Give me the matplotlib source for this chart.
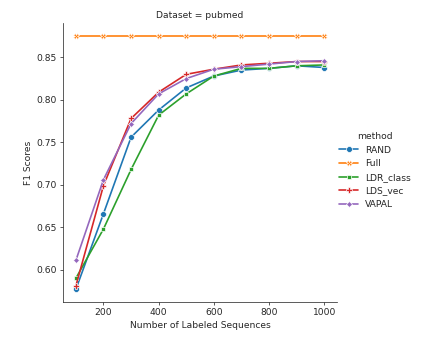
import numpy as np
import pandas as pd
import matplotlib
matplotlib.use("Agg")
import matplotlib.pyplot as plt
import seaborn as sns

# number of labeled sequences
sizes = [100, 200, 300, 400, 500, 600, 700, 800, 900, 1000]

# F1 scores, one list per method
rand = [0.577, 0.666, 0.756, 0.788, 0.814, 0.828, 0.835, 0.837, 0.840, 0.838]
full = [0.875] * 10
ldr_class = [0.590, 0.648, 0.718, 0.782, 0.807, 0.828, 0.837, 0.837, 0.840, 0.841]
lds_vec = [0.581, 0.699, 0.778, 0.809, 0.830, 0.836, 0.841, 0.843, 0.845, 0.845]
vapal = [0.611, 0.706, 0.772, 0.807, 0.825, 0.836, 0.839, 0.842, 0.845, 0.846]

methods = ["RAND", "Full", "LDR_class", "LDS_vec", "VAPAL"]
scores = [rand, full, ldr_class, lds_vec, vapal]

rows = []
for m, vals in zip(methods, scores):
    for n, v in zip(sizes, vals):
        rows.append({"size": n, "f1": v, "method": m})
df = pd.DataFrame(rows)

sns.set_style("ticks")
plt.rcParams["font.size"] = 10
plt.rcParams["axes.labelsize"] = 10
plt.rcParams["xtick.labelsize"] = 10
plt.rcParams["ytick.labelsize"] = 10
plt.rcParams["legend.fontsize"] = 10

dpi = 66
fig = plt.figure(figsize=(423 / dpi, 341 / dpi), dpi=dpi)
ax = fig.add_axes([0.150, 0.1144, 0.646, 0.817])

sns.lineplot(data=df, x="size", y="f1", hue="method", style="method",
             markers=True, dashes=False, ax=ax, legend=True,
             linewidth=1.8, markersize=6.5)
sns.despine(ax=ax)

ax.set_xlabel("Number of Labeled Sequences")
ax.set_ylabel("F1 Scores")
ax.set_title("Dataset = pubmed", fontsize=10)

handles, labels = ax.get_legend_handles_labels()
ax.get_legend().remove()
fig.legend(handles, labels, title="method", frameon=False,
           loc="center left", bbox_to_anchor=(0.783, 0.5))

fig.savefig("out.png", dpi=dpi)
